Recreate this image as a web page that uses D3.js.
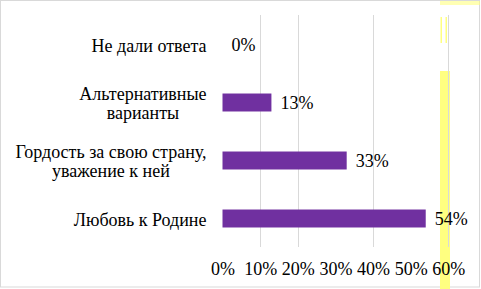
<!DOCTYPE html>
<html>
<head>
<meta charset="utf-8">
<script src="https://cdn.jsdelivr.net/npm/d3@7"></script>
</head>
<body style="margin:0">
<svg id="chart" width="481" height="289"></svg>
<script>
const categories = ["Не дали ответа", "Альтернативные\nварианты", "Гордость за свою страну,\nуважение к ней", "Любовь к Родине"];
const values = [0, 13, 33, 54];
const tickValues = [0, 10, 20, 30, 40, 50, 60];
const gridValues = [10, 20, 40, 60];

const W = 481, H = 289;
const svg = d3.select("#chart");

svg.append("rect").attr("x", 0.5).attr("y", 0.5).attr("width", W - 2).attr("height", H - 2.5)
  .attr("fill", "#fff").attr("stroke", "#d9d9d9").attr("stroke-width", 1);

const yel = "#ffff80";
svg.append("rect").attr("x", 440).attr("y", 71).attr("width", 10).attr("height", H - 71).attr("fill", yel);
svg.append("rect").attr("x", 440).attr("y", 1).attr("width", 40).attr("height", 4).attr("fill", yel).attr("opacity", 0.6);
svg.append("rect").attr("x", 440.5).attr("y", 17).attr("width", 1.5).attr("height", 26).attr("fill", yel);
svg.append("rect").attr("x", 445.5).attr("y", 17).attr("width", 1.5).attr("height", 26).attr("fill", yel);

const x = d3.scaleLinear().domain([0, 60]).range([222.5, 448.3]);
const y = d3.scaleBand().domain(categories).range([15.5, 247.5]).paddingInner(0.69).paddingOuter(0.345);

svg.selectAll("line.grid").data(gridValues).join("line").attr("class", "grid")
  .attr("x1", d => Math.round(x(d)) + 0.5).attr("x2", d => Math.round(x(d)) + 0.5)
  .attr("y1", 15).attr("y2", 247)
  .attr("stroke", "#d9d9d9").attr("stroke-width", 1);

svg.selectAll("rect.bar").data(values).join("rect").attr("class", "bar")
  .attr("x", x(0))
  .attr("y", (d, i) => y(categories[i]))
  .attr("width", d => x(d) - x(0))
  .attr("height", y.bandwidth())
  .attr("fill", "#7030a0");

svg.selectAll("text.val").data(values).join("text").attr("class", "val")
  .attr("x", d => x(d) + 9)
  .attr("y", (d, i) => y(categories[i]) + y.bandwidth() / 2 + 6.5)
  .style("font-family", `"Liberation Serif"`)
  .style("font-size", "18px")
  .text(d => d + "%");

const labelRight = 206.5;
const lineH = 19.5;
const catTexts = [];
categories.forEach((c) => {
  const lines = c.split("\n");
  const cy = y(c) + y.bandwidth() / 2;
  const texts = lines.map((ln, j) => svg.append("text")
    .style("font-family", `"Liberation Serif"`)
    .style("font-size", "18px")
    .attr("x", labelRight)
    .attr("text-anchor", "end")
    .attr("y", cy + 7 + (j - (lines.length - 1) / 2) * lineH)
    .text(ln));
  catTexts.push(texts);
});

const axis = d3.axisBottom(x).tickValues(tickValues).tickSize(0).tickPadding(0).tickFormat(d => d + "%");
const ag = svg.append("g").attr("transform", "translate(0,262)").call(axis);
ag.select(".domain").remove();
ag.attr("font-family", null).attr("font-size", null);
ag.selectAll("text").style("font-family", `"Liberation Serif"`).style("font-size", "18px").attr("fill", "#000");

function centreLines() {
  catTexts.forEach(texts => {
    if (texts.length < 2) return;
    const widths = texts.map(t => t.node().getComputedTextLength());
    const maxW = d3.max(widths);
    const center = labelRight - maxW / 2;
    texts.forEach(t => t.attr("x", center).attr("text-anchor", "middle"));
  });
}
if (document.fonts && document.fonts.ready) {
  document.fonts.ready.then(() => requestAnimationFrame(centreLines));
} else {
  setTimeout(centreLines, 50);
}
</script>
</body>
</html>
